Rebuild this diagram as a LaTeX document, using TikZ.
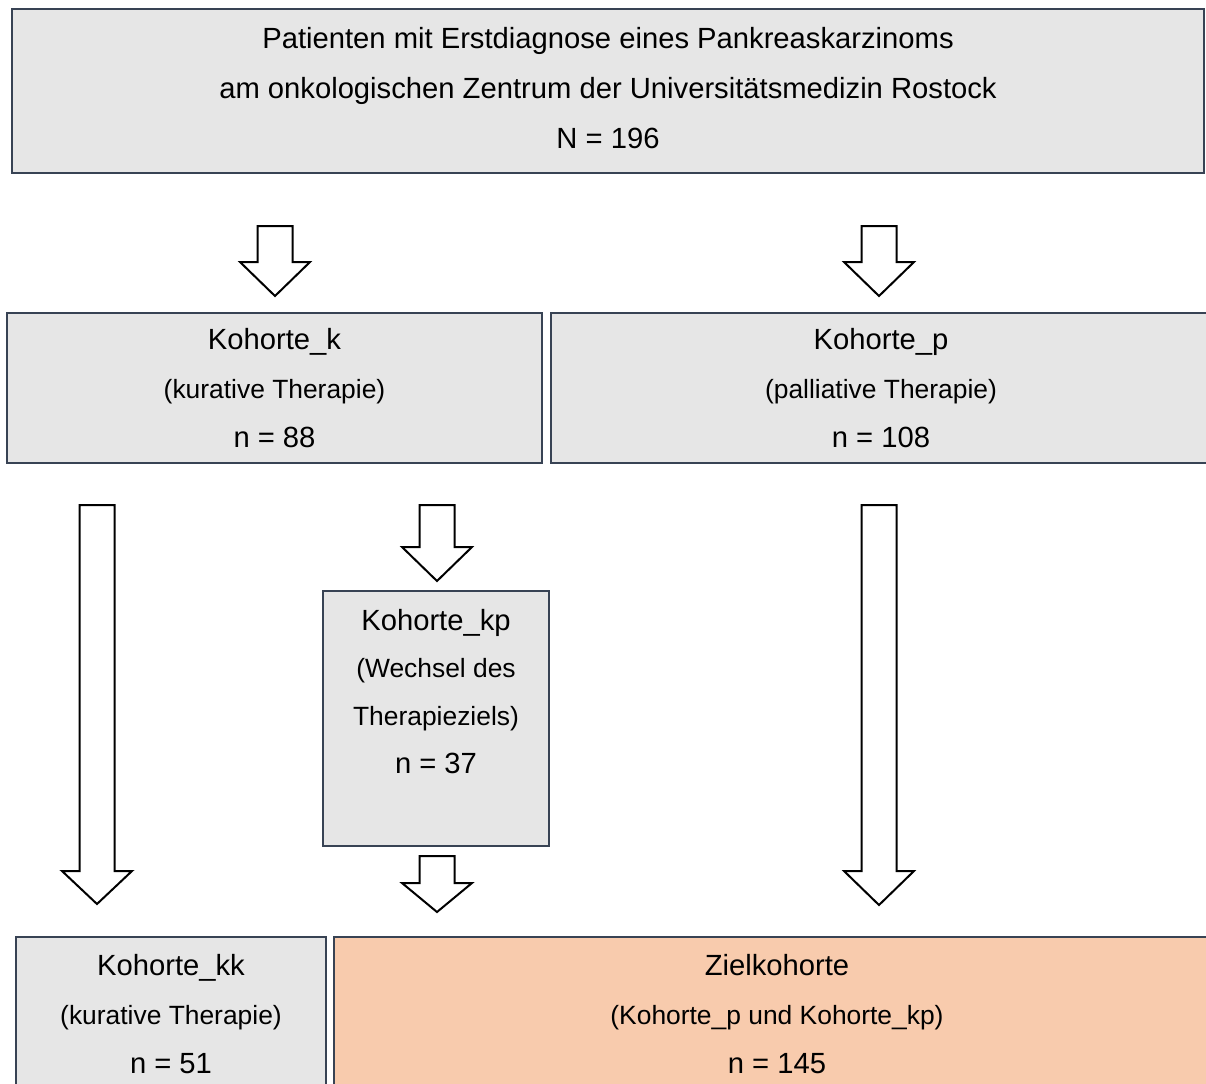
\documentclass[tikz,border=0pt]{standalone}
\usepackage{fontspec}
\setmainfont{Liberation Sans}
\usetikzlibrary{positioning}
\definecolor{boxgray}{HTML}{E6E6E6}
\definecolor{boxpeach}{HTML}{F8CBAD}
\definecolor{boxline}{HTML}{384354}
\newcommand{\txtbig}{\fontsize{14.6}{24.5}\selectfont}
\newcommand{\txtsmall}{\fontsize{13.2}{24.5}\selectfont}
\tikzset{
  cohort/.style={draw=boxline,line width=1.25pt,fill=boxgray,align=center,inner sep=0pt,font=\txtbig},
  target/.style={cohort,fill=boxpeach},
  hollow/.style={draw=black,line width=1pt,fill=white,line join=miter}
}

\begin{document}
\begin{tikzpicture}[x=0.5pt,y=-0.5pt]
  \useasboundingbox (0,0) rectangle (1206,1083);
  \clip (0,0) rectangle (1206,1083);
  \node[cohort,minimum width=596pt,minimum height=82pt,text depth=3pt,
        font=\fontsize{14.6}{25}\selectfont] (all) at (608,91)
    {Patienten mit Erstdiagnose eines Pankreaskarzinoms\\am onkologischen Zentrum der Universitätsmedizin Rostock\\N = 196};
  \node[cohort,minimum width=267.5pt,minimum height=75pt] (kur) at (274.5,388)
    {Kohorte\_k\\{\txtsmall (kurative Therapie)}\\n = 88};
  \node[cohort,minimum width=330pt,minimum height=75pt] (pal) at (881,388)
    {Kohorte\_p\\{\txtsmall (palliative Therapie)}\\n = 108};
  \node[cohort,minimum width=113pt,minimum height=127.5pt] (wech) at (436,718.5) {};
  \node[align=center,anchor=north,inner sep=0pt,font=\fontsize{14.6}{23.8}\selectfont] (wechtxt)
    at ([yshift=-9.5pt]wech.north)
    {Kohorte\_kp\\{\txtsmall (Wechsel des}\\{\txtsmall Therapieziels)}\\n = 37};
  \node[cohort,minimum width=155pt,minimum height=79pt,text depth=2.5pt] (kk) at (171,1016)
    {Kohorte\_kk\\{\txtsmall (kurative Therapie)}\\n = 51};
  \node[target,minimum width=443pt,minimum height=79pt,text depth=2.5pt] (ziel) at (777,1016)
    {Zielkohorte\\{\txtsmall (Kohorte\_p und Kohorte\_kp)}\\n = 145};
  % block arrows: x / top / tip / head length
  \foreach \arrx/\arry/\arrt/\arrh in {275/226/296/34, 879/226/296/34, 97/505/904/33,
      437/505/581/34, 879/505/905/34, 437/856/912/29}
    \draw[hollow] (\arrx-17.5,\arry) -- (\arrx+17.5,\arry) -- (\arrx+17.5,\arrt-\arrh)
      -- (\arrx+35,\arrt-\arrh) -- (\arrx,\arrt) -- (\arrx-35,\arrt-\arrh)
      -- (\arrx-17.5,\arrt-\arrh) -- cycle;
\end{tikzpicture}
\end{document}
